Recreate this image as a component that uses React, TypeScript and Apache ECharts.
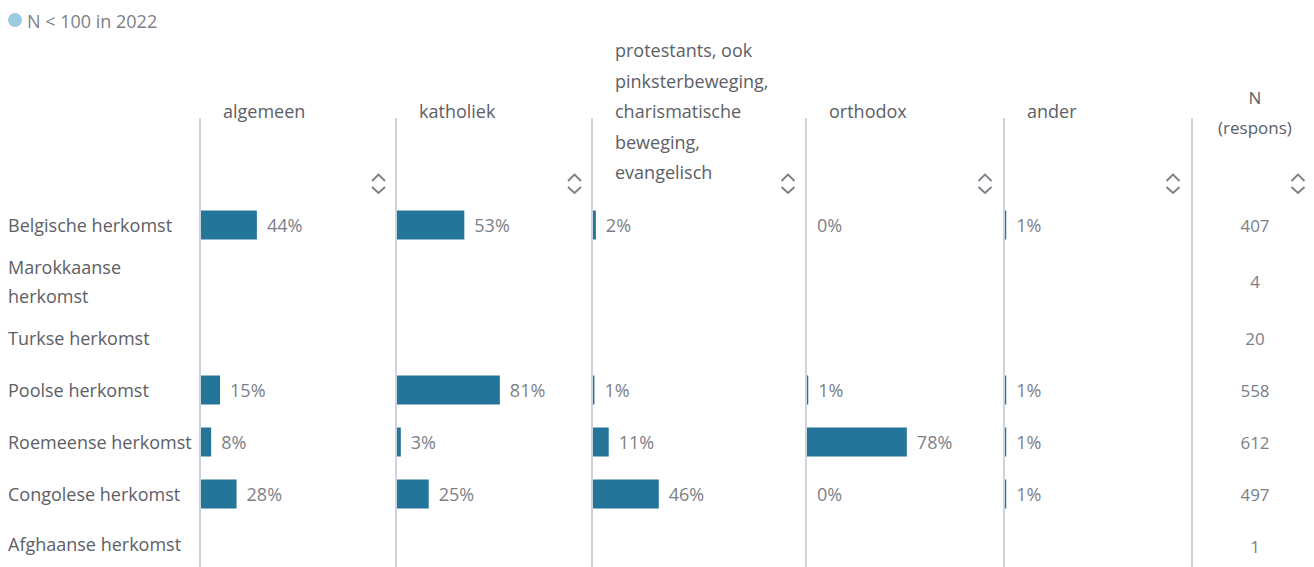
import React, { useEffect, useRef } from "react";
import * as echarts from "echarts";

// ---- data ----
const rowLabels = [
  "Belgische herkomst",
  "Marokkaanse herkomst",
  "Turkse herkomst",
  "Poolse herkomst",
  "Roemeense herkomst",
  "Congolese herkomst",
  "Afghaanse herkomst",
];
const columnTitles = [
  "algemeen",
  "katholiek",
  "protestants, ook\npinksterbeweging,\ncharismatische\nbeweging,\nevangelisch",
  "orthodox",
  "ander",
];
const algemeen = [44, null, null, 15, 8, 28, null];
const katholiek = [53, null, null, 81, 3, 25, null];
const protestants = [2, null, null, 1, 11, 46, null];
const orthodox = [0, null, null, 1, 78, 0, null];
const ander = [1, null, null, 1, 1, 1, null];
const nRespons = [407, 4, 20, 558, 612, 497, 1];
const nTitle = "N\n(respons)";
const legendText = "N < 100 in 2022";

const columns = [algemeen, katholiek, protestants, orthodox, ander];

// ---- layout ----
const FONT = '"Open Sans", "Noto Sans", sans-serif';
const dividerX = [200, 396, 592, 806, 1004, 1192];
const scale100 = [127, 127, 143, 128, 124];
const rowH = [52, 61, 52, 52, 52, 52, 52];
const firstRowTop = 199;
const iconX = [378.5, 574.5, 788, 985, 1173, 1298];
const nCenterX = 1255;
const BAR = "#23769a";
const LABEL_COLOR = "#5c6066";
const VALUE_COLOR = "#7c8087";
const LINE_COLOR = "#cdd2dd";

export default function App() {
  const ref = useRef<HTMLDivElement>(null);

  useEffect(() => {
    if (!ref.current) return;
    const chart = echarts.init(ref.current, undefined, { renderer: "svg" });

    const rowTops: number[] = [];
    let acc = firstRowTop;
    rowH.forEach((h) => {
      rowTops.push(acc);
      acc += h;
    });

    const grids: any[] = [];
    const xAxes: any[] = [];
    const yAxes: any[] = [];
    const series: any[] = [];

    rowLabels.forEach((label, r) => {
      columns.forEach((col, c) => {
        const idx = grids.length;
        grids.push({
          left: dividerX[c] + 1,
          top: rowTops[r],
          width: scale100[c],
          height: rowH[r],
          containLabel: false,
        });
        xAxes.push({
          type: "value",
          gridIndex: idx,
          min: 0,
          max: 100,
          show: false,
        });
        yAxes.push({
          type: "category",
          gridIndex: idx,
          data: [label],
          axisLine: { show: false },
          axisTick: { show: false },
          splitLine: { show: false },
          axisLabel: {
            show: c === 0,
            align: "left",
            margin: dividerX[0] + 1 - 8,
            fontFamily: FONT,
            fontSize: 18,
            color: LABEL_COLOR,
            lineHeight: 29,
            width: 190,
            overflow: "break",
          },
        });
        const v = col[r];
        series.push({
          type: "bar",
          xAxisIndex: idx,
          yAxisIndex: idx,
          data: [v === null ? "-" : v],
          barWidth: 29,
          itemStyle: { color: BAR },
          label: {
            show: v !== null,
            position: "right",
            distance: 10,
            formatter: "{c}%",
            fontFamily: FONT,
            fontSize: 18,
            color: VALUE_COLOR,
          },
          silent: true,
        });
      });
    });

    const graphic: any[] = [];
    // legend
    graphic.push({
      type: "circle",
      shape: { cx: 15, cy: 20, r: 7 },
      style: { fill: "#9ccbe0" },
    });
    graphic.push({
      type: "text",
      style: {
        text: legendText,
        x: 27,
        y: 21,
        verticalAlign: "middle",
        font: `18px ${FONT}`,
        fill: VALUE_COLOR,
      },
    });
    // headers
    columnTitles.forEach((t, c) => {
      graphic.push({
        type: "text",
        style: {
          text: t,
          x: dividerX[c] + 23,
          y: 111,
          verticalAlign: "middle",
          font: `18px ${FONT}`,
          lineHeight: 30.5,
          fill: LABEL_COLOR,
        },
      });
    });
    graphic.push({
      type: "text",
      style: {
        text: nTitle,
        x: nCenterX,
        y: 112,
        align: "center",
        verticalAlign: "middle",
        font: `17px ${FONT}`,
        lineHeight: 30,
        fill: LABEL_COLOR,
      },
    });
    // dividers
    dividerX.forEach((x) => {
      graphic.push({
        type: "line",
        shape: { x1: x, y1: 118, x2: x, y2: 567 },
        style: { stroke: LINE_COLOR, lineWidth: 2 },
      });
    });
    // sort icons
    iconX.forEach((x) => {
      graphic.push({
        type: "polyline",
        shape: { points: [[x - 6.5, 181], [x, 174.5], [x + 6.5, 181]] },
        style: { stroke: "#7a7f87", lineWidth: 1.8, fill: null },
      });
      graphic.push({
        type: "polyline",
        shape: { points: [[x - 6.5, 187], [x, 193], [x + 6.5, 187]] },
        style: { stroke: "#7a7f87", lineWidth: 1.8, fill: null },
      });
    });
    // N values
    nRespons.forEach((n, r) => {
      graphic.push({
        type: "text",
        style: {
          text: String(n),
          x: nCenterX,
          y: rowTops[r] + rowH[r] / 2,
          align: "center",
          verticalAlign: "middle",
          font: `17px ${FONT}`,
          fill: VALUE_COLOR,
        },
      });
    });

    chart.setOption({
      animation: false,
      grid: grids,
      xAxis: xAxes,
      yAxis: yAxes,
      series,
      graphic,
    });

    return () => chart.dispose();
  }, []);

  return (
    <div
      ref={ref}
      style={{ position: "absolute", left: 0, top: 0, width: 1314, height: 567, background: "#fff" }}
    />
  );
}
